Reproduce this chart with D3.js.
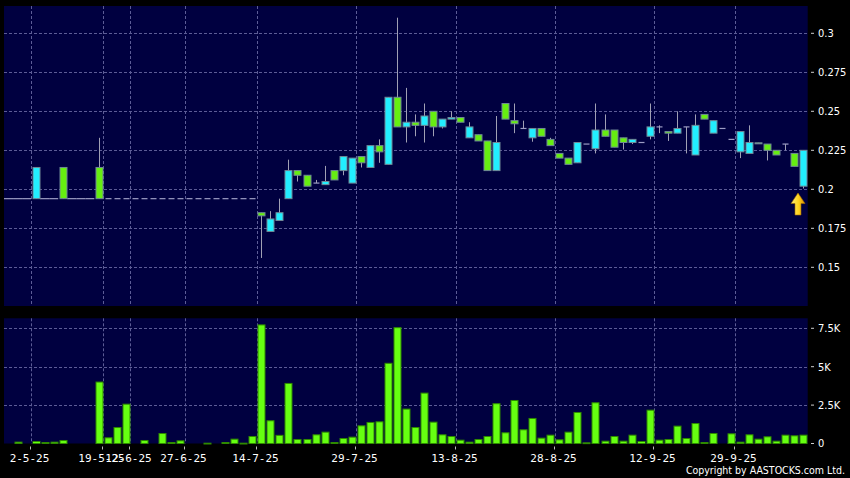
<!DOCTYPE html>
<html>
<head>
<meta charset="utf-8">
<script src="https://cdn.jsdelivr.net/npm/d3@7"></script>
<style>
  body { margin: 0; background: #000; }
  svg { display: block; }
</style>
</head>
<body>
<div id="chart"></div>
<script>
// daily OHLC, one entry per slot (flat entries = no price move)
const opens  = [0.194,0.194,0.194,0.194,0.194,0.194,0.214,0.194,0.194,0.194,0.214,0.194,0.194,0.194,0.194,0.194,0.194,0.194,0.194,0.194,0.194,0.194,0.194,0.194,0.194,0.194,0.194,0.194,
  0.185,0.173,0.180,0.194,0.212,0.209,0.204,0.203,0.212,0.212,0.204,0.221,0.214,0.228,0.216,0.259,0.240,0.243,0.241,0.250,0.240,0.245,0.246,0.233,0.235,0.231,0.212,0.255,0.244,0.239,
  0.233,0.239,0.232,0.223,0.220,0.217,0.229,0.226,0.238,0.238,0.233,0.230,0.230,0.234,0.240,0.237,0.236,0.240,0.222,0.248,0.236,0.239,0.232,0.224,0.223,0.2298,0.229,0.225,0.229,0.223,0.202];
const highs  = [0.194,0.194,0.194,0.214,0.194,0.194,0.214,0.194,0.194,0.194,0.233,0.194,0.194,0.194,0.194,0.194,0.194,0.194,0.194,0.194,0.194,0.194,0.194,0.194,0.194,0.194,0.194,0.194,
  0.185,0.186,0.194,0.219,0.212,0.209,0.206,0.215,0.212,0.221,0.220,0.221,0.228,0.232,0.259,0.310,0.265,0.248,0.255,0.250,0.245,0.250,0.246,0.243,0.235,0.231,0.247,0.255,0.255,0.244,
  0.239,0.239,0.233,0.223,0.220,0.230,0.229,0.255,0.248,0.238,0.233,0.232,0.230,0.255,0.241,0.237,0.250,0.240,0.248,0.248,0.244,0.239,0.232,0.237,0.241,0.2298,0.229,0.225,0.229,0.223,0.225];
const lows   = [0.194,0.194,0.194,0.194,0.194,0.194,0.194,0.194,0.194,0.194,0.194,0.194,0.194,0.194,0.194,0.194,0.194,0.194,0.194,0.194,0.194,0.194,0.194,0.194,0.194,0.194,0.194,0.194,
  0.156,0.173,0.180,0.194,0.205,0.202,0.204,0.203,0.206,0.209,0.204,0.214,0.214,0.217,0.216,0.240,0.230,0.234,0.230,0.234,0.239,0.245,0.243,0.233,0.231,0.212,0.212,0.245,0.236,0.239,
  0.2305,0.234,0.228,0.220,0.216,0.217,0.229,0.223,0.234,0.227,0.2255,0.229,0.230,0.232,0.236,0.231,0.236,0.223,0.222,0.245,0.236,0.239,0.232,0.220,0.223,0.2292,0.2185,0.222,0.225,0.2147,0.2005];
const closes = [0.194,0.194,0.194,0.214,0.194,0.194,0.194,0.194,0.194,0.194,0.194,0.194,0.194,0.194,0.194,0.194,0.194,0.194,0.194,0.194,0.194,0.194,0.194,0.194,0.194,0.194,0.194,0.194,
  0.183,0.181,0.185,0.212,0.209,0.202,0.204,0.205,0.206,0.221,0.220,0.217,0.228,0.224,0.259,0.240,0.243,0.241,0.247,0.240,0.245,0.246,0.243,0.240,0.231,0.212,0.230,0.245,0.242,0.239,
  0.239,0.234,0.228,0.220,0.216,0.230,0.229,0.238,0.234,0.227,0.230,0.232,0.230,0.240,0.240,0.236,0.239,0.240,0.241,0.245,0.244,0.239,0.232,0.237,0.230,0.2292,0.225,0.222,0.229,0.2147,0.225];
const volumes = [0,90,0,130,65,87,196,0,0,0,4000,370,1040,2560,0,196,0,650,65,174,0,0,20,0,65,283,20,456,
  7720,1480,530,3910,261,261,565,739,65,326,413,1150,1370,1410,5220,7540,2240,1040,3280,1390,565,456,217,87,261,456,2590,696,2800,891,
  1630,348,543,239,739,2020,43,2650,152,456,152,543,130,2170,217,261,1130,326,1300,65,652,0,630,87,565,283,435,152,543,500,543];

// first 11 slots carry the previous close as a continuous line
const solidUntil = 10;

const tickIndex  = [3, 11, 14, 20, 28, 39, 50, 61, 72, 81];
const tickLabels = ["2-5-25", "19-5-25", "12-6-25", "27-6-25", "14-7-25", "29-7-25", "13-8-25", "28-8-25", "12-9-25", "29-9-25"];
const priceTicks = [0.15, 0.175, 0.2, 0.225, 0.25, 0.275, 0.3];
const volTicks   = [0, 2500, 5000, 7500];
const volTickLabels = ["0", "2.5K", "5K", "7.5K"];

const W = 850, H = 478;
const left = 4, right = 807.7;
const pTop = 6, pBot = 306, vTop = 318.3, vBot = 443.5;

const n = closes.length;
const x = d3.scaleBand().domain(d3.range(n)).range([left, right]);
const y = d3.scaleLinear().domain([0.1252, 0.3175]).range([pBot, pTop]);
const yv = d3.scaleLinear().domain([0, 8150]).range([vBot, vTop]);
const step = x.step();
const bw = 7;

const cyan = "#22eeff", green = "#66ee11";
const gridColor = "#5c5c96";
const labelFont = "'DejaVu Sans Condensed', 'DejaVu Sans', sans-serif";

const svg = d3.select("#chart").append("svg")
    .attr("width", W).attr("height", H)
    .style("background", "#000");

// panels
svg.append("rect").attr("x", left).attr("y", pTop).attr("width", right - left).attr("height", pBot - pTop).attr("fill", "#000040");
svg.append("rect").attr("x", left).attr("y", vTop).attr("width", right - left).attr("height", vBot - vTop).attr("fill", "#000040");

// grid
const grid = svg.append("g")
    .attr("stroke", gridColor).attr("stroke-width", 1).attr("stroke-dasharray", "3,2");

grid.selectAll(".hp").data(priceTicks).join("line")
    .attr("x1", left).attr("x2", right)
    .attr("y1", d => Math.round(y(d)) + 0.5).attr("y2", d => Math.round(y(d)) + 0.5);

grid.selectAll(".hv").data(volTicks.slice(1)).join("line")
    .attr("x1", left).attr("x2", right)
    .attr("y1", d => Math.round(yv(d)) + 0.5).attr("y2", d => Math.round(yv(d)) + 0.5);

const gx = i => Math.round(x(i)) + 0.5;
tickIndex.forEach(i => {
  grid.append("line").attr("x1", gx(i)).attr("x2", gx(i)).attr("y1", pTop).attr("y2", pBot);
  grid.append("line").attr("x1", gx(i)).attr("x2", gx(i)).attr("y1", vTop).attr("y2", vBot);
});

// candles
const data = d3.range(n).map(i => ({i, o: opens[i], h: highs[i], l: lows[i], c: closes[i]}));
const cx = d => Math.round(x(d.i) + step / 2) + 0.5;

const candles = svg.append("g");

candles.selectAll(".wick").data(data.filter(d => d.h > d.l)).join("line")
    .attr("stroke", "#a0a0b4").attr("stroke-width", 1)
    .attr("x1", cx).attr("x2", cx)
    .attr("y1", d => y(d.h)).attr("y2", d => y(d.l));

candles.selectAll(".flat").data(data.filter(d => d.o === d.c)).join("line")
    .attr("stroke", "#9c9cc4").attr("stroke-width", 1.2)
    .attr("x1", d => d.i <= solidUntil ? x(d.i) : cx(d) - 3)
    .attr("x2", d => d.i <= solidUntil ? x(d.i) + step : cx(d) + 3)
    .attr("y1", d => y(d.c)).attr("y2", d => y(d.c));

candles.selectAll(".body").data(data.filter(d => d.o !== d.c)).join("rect")
    .attr("x", d => cx(d) - bw / 2)
    .attr("width", bw)
    .attr("y", d => y(Math.max(d.o, d.c)))
    .attr("height", d => Math.max(1, Math.abs(y(d.o) - y(d.c))))
    .attr("fill", d => d.c > d.o ? cyan : green)
    .attr("stroke", "#6f8896").attr("stroke-width", 1);

// arrow under the latest candle
const last = data[n - 1];
const defs = svg.append("defs");
const grad = defs.append("linearGradient").attr("id", "arrowGrad")
    .attr("x1", 0).attr("y1", 0).attr("x2", 1).attr("y2", 0);
grad.append("stop").attr("offset", "0%").attr("stop-color", "#fff07a");
grad.append("stop").attr("offset", "55%").attr("stop-color", "#ffd21a");
grad.append("stop").attr("offset", "100%").attr("stop-color", "#d98a00");
svg.append("path")
    .attr("transform", `translate(${cx(last) - 5.5},${y(last.l) + 4.5})`)
    .attr("d", "M0,0 L7,10.5 L3,10.5 L3,22 L-3,22 L-3,10.5 L-7,10.5 Z")
    .attr("fill", "url(#arrowGrad)")
    .attr("stroke", "#a06a00").attr("stroke-width", 0.6);

// volume bars
svg.append("g").selectAll("rect").data(volumes.map((v, i) => ({i, v})).filter(d => d.v > 0)).join("rect")
    .attr("x", d => cx(d) - bw / 2)
    .attr("width", bw)
    .attr("y", d => yv(d.v))
    .attr("height", d => Math.max(0.8, vBot - yv(d.v)))
    .attr("fill", "#66ff11")
    .attr("stroke", "#2f8a00").attr("stroke-width", 1);

// right axis labels
const axis = svg.append("g").attr("font-family", labelFont).attr("font-size", 11).attr("fill", "#fff");
priceTicks.forEach(t => {
  axis.append("line").attr("x1", 811).attr("x2", 814).attr("y1", y(t)).attr("y2", y(t)).attr("stroke", "#ccc");
  axis.append("text").attr("x", 818).attr("y", y(t)).attr("dy", "0.36em").text(String(t));
});
volTicks.forEach((t, k) => {
  axis.append("line").attr("x1", 811).attr("x2", 814).attr("y1", yv(t)).attr("y2", yv(t)).attr("stroke", "#ccc");
  axis.append("text").attr("x", 818).attr("y", yv(t)).attr("dy", "0.36em").text(volTickLabels[k]);
});

// date axis (19-5 and 12-6 labels collide, as in the original)
const dates = svg.append("g").attr("font-family", "'DejaVu Sans Mono', monospace").attr("font-size", 11).attr("fill", "#fff");
tickIndex.forEach((i, k) => {
  dates.append("line").attr("x1", gx(i) - 1).attr("x2", gx(i) - 1).attr("y1", 446.5).attr("y2", 449.5).attr("stroke", "#bbb");
  dates.append("text").attr("x", gx(i) - 2).attr("y", 461.5).attr("text-anchor", "middle").text(tickLabels[k]);
});

svg.append("text")
    .attr("x", 845).attr("y", 474)
    .attr("text-anchor", "end")
    .attr("font-family", labelFont).attr("font-size", 10.5)
    .attr("fill", "#fff")
    .text("Copyright by AASTOCKS.com Ltd.");
</script>
</body>
</html>
